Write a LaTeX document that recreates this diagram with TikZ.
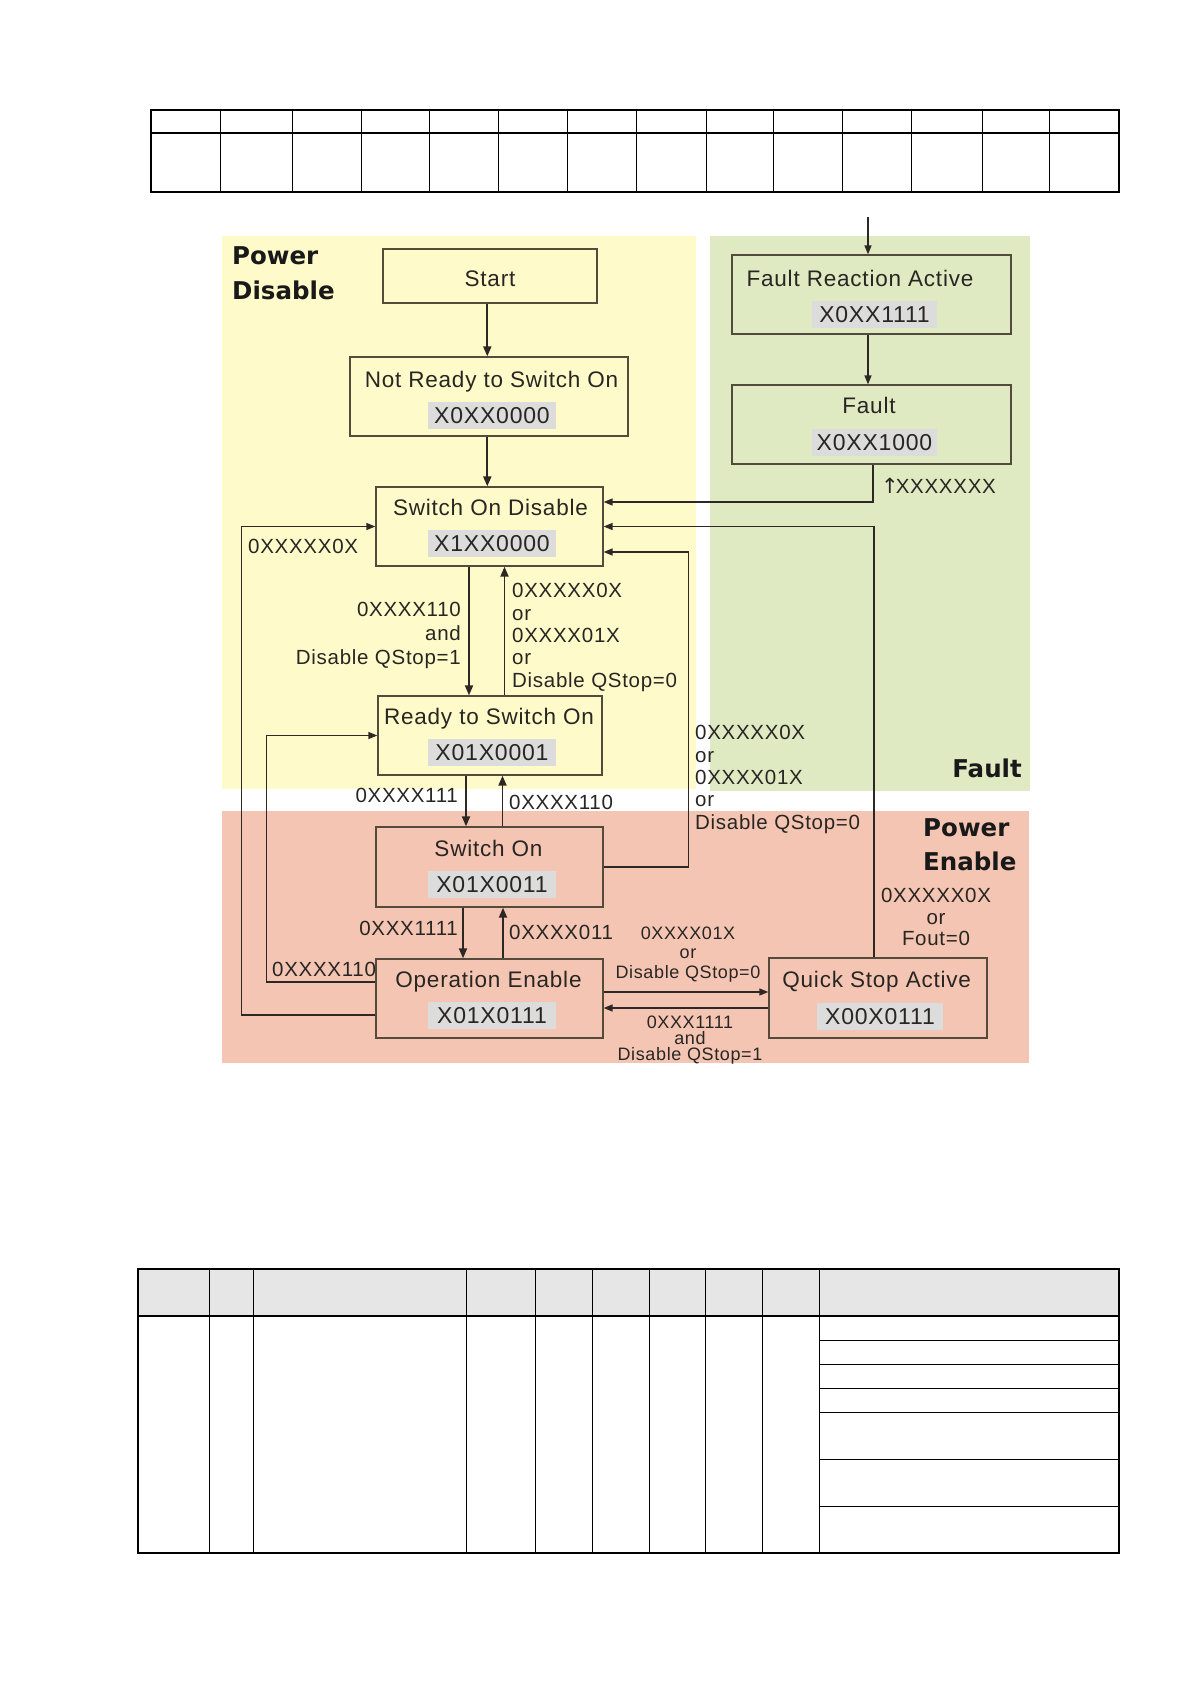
\documentclass[tikz,border=0pt]{standalone}
\usepackage{fontspec}
\setmainfont{Liberation Sans}[LetterSpace=3.5]
\newfontfamily\bfam[BoldFont={DejaVu Sans Bold}]{DejaVu Sans}
\newfontfamily\djv{DejaVu Sans}
\usetikzlibrary{arrows.meta,calc}
\definecolor{ybg}{RGB}{254,250,201}
\definecolor{gbg}{RGB}{223,233,194}
\definecolor{rbg}{RGB}{245,197,180}
\definecolor{hl}{RGB}{220,220,220}
\definecolor{boxc}{RGB}{85,75,60}
\definecolor{txt}{RGB}{40,38,35}
\definecolor{lnc}{RGB}{45,40,35}
\definecolor{thd}{RGB}{230,230,230}
\begin{document}
\begin{tikzpicture}[x=1pt,y=-1pt,
  stbox/.style={draw=boxc,line width=1.3pt,inner sep=0pt},
  ttl/.style={font=\fontsize{22.5}{27}\selectfont,text=txt,inner sep=0pt,text height=16pt,text depth=0pt},
  codebox/.style={font=\fontsize{23}{27}\selectfont,text=txt,fill=hl,inner sep=0pt,minimum width=128pt,minimum height=27pt,text height=16.5pt,text depth=0pt},
  lab/.style={font=\fontsize{20.5}{22.3}\selectfont,text=txt,inner sep=0pt},
  labone/.style={lab,text height=15pt,text depth=0pt},
  slab/.style={text=txt,inner sep=0pt,align=center,anchor=north},
  bigl/.style={font=\bfam\bfseries\fontsize{24.5}{35}\selectfont,text=black!90,inner sep=0pt},
  cn/.style={draw=lnc,line width=1.4pt,-{Triangle[length=9pt,width=7pt]}},
  va/.style={draw=lnc,line width=1.9pt,-{Triangle[length=10pt,width=8pt]}},
  tline/.style={draw=black,line width=0.9pt},
  tbold/.style={draw=black,line width=1.8pt}
]
\useasboundingbox (0,0) rectangle (1190,1684);

% ---------- top table ----------
\draw[tbold] (151,110) rectangle (1119,192);
\draw[tbold] (151,133) -- (1119,133);
\foreach \xx in {220.8,292.2,361.3,429.6,498.7,567.8,636.1,706,773.5,842.6,911,982.3,1049.9}
  \draw[tline] (\xx,110) -- (\xx,192);

% ---------- regions ----------
\fill[ybg] (222,236) rectangle (696,789);
\fill[gbg] (710,236) rectangle (1030,791);
\fill[rbg] (222,811) rectangle (1029,1063);

% ---------- state boxes ----------
\node[stbox,minimum width=214pt,minimum height=54pt] (start) at (490,276) {};
\node[stbox,minimum width=278pt,minimum height=79pt] (notready) at (489,396.5) {};
\node[stbox,minimum width=227pt,minimum height=79pt] (sod) at (489.5,526.5) {};
\node[stbox,minimum width=224pt,minimum height=79pt] (ready) at (490,735.5) {};
\node[stbox,minimum width=227pt,minimum height=80pt] (son) at (489.5,867) {};
\node[stbox,minimum width=227pt,minimum height=79pt] (oe) at (489.5,998.5) {};
\node[stbox,minimum width=218pt,minimum height=80pt] (qsa) at (878,998) {};
\node[stbox,minimum width=279pt,minimum height=79pt] (fra) at (871.5,294.5) {};
\node[stbox,minimum width=279pt,minimum height=79pt] (fault) at (871.5,424.5) {};

\node[ttl] (startT) at (490,278) {Start};
\node[ttl] (notreadyT) at (491.5,379) {Not Ready to Switch On};
\node[codebox] (notreadyC) at (492,415.5) {X0XX0000};
\node[ttl] (sodT) at (490.5,507) {Switch On Disable};
\node[codebox] (sodC) at (492,543) {X1XX0000};
\node[ttl] (readyT) at (489,716) {Ready to Switch On};
\node[codebox] (readyC) at (492,752) {X01X0001};
\node[ttl] (sonT) at (488.5,848) {Switch On};
\node[codebox] (sonC) at (492,884) {X01X0011};
\node[ttl] (oeT) at (488.5,979) {Operation Enable};
\node[codebox] (oeC) at (492,1015.5) {X01X0111};
\node[ttl] (qsaT) at (876.7,979) {Quick Stop Active};
\node[codebox,minimum width=126pt] (qsaC) at (880,1016) {X00X0111};
\node[ttl] (fraT) at (860,278) {Fault Reaction Active};
\node[codebox,minimum width=125pt] (fraC) at (874.5,314) {X0XX1111};
\node[ttl] (faultT) at (869,405) {Fault};
\node[codebox,minimum width=125pt] (faultC) at (874.5,442.5) {X0XX1000};

% ---------- region titles ----------
\node[bigl,align=left,anchor=north west] (pdis) at (232,246) {Power\\Disable};
\node[bigl,align=left,anchor=north west,font=\bfam\bfseries\fontsize{24.5}{34}\selectfont] (pen) at (923,818) {Power\\Enable};
\node[bigl,anchor=east,text height=18pt,text depth=0pt] (faultL) at (1022,768) {Fault};

% ---------- vertical state arrows ----------
\draw[va] ([xshift=-2.7pt]start.south) -- ([xshift=-2.7pt]start.south |- notready.north);
\draw[va] ([xshift=-1.7pt]notready.south) -- ([xshift=-1.7pt]notready.south |- sod.north);
\draw[va] ([xshift=-20.5pt]sod.south) -- ([xshift=-20.5pt]sod.south |- ready.north);
\draw[va] ([xshift=14.5pt]ready.north) -- ([xshift=14.5pt]ready.north |- sod.south);
\draw[va] ([xshift=-24pt]ready.south) -- ([xshift=-24pt]ready.south |- son.north);
\draw[va] ([xshift=13pt]son.north) -- ([xshift=13pt]son.north |- ready.south);
\draw[va] ([xshift=-26.5pt]son.south) -- ([xshift=-26.5pt]son.south |- oe.north);
\draw[va] ([xshift=13.5pt]oe.north) -- ([xshift=13.5pt]oe.north |- son.south);

% ---------- connectors ----------
\coordinate (fin) at (868,217);
\draw[cn] (fin) -- (fin |- fra.north);
\draw[cn] ([xshift=-3.5pt]fra.south) -- ([xshift=-3.5pt]fra.south |- fault.north);
\draw[cn] ([xshift=1.5pt]fault.south) |- ([yshift=24.5pt]sod.east);
\draw[cn] ([xshift=-4pt]qsa.north) |- (sod.east);
\draw[cn] (son.east) -- ++(85,0) |- ([yshift=-25.5pt]sod.east);
\draw[cn] ([yshift=-16.5pt]oe.west) -- ++(-134,0) |- (sod.west);
\draw[cn] ([yshift=16.5pt]oe.west) -- ++(-109,0) |- (ready.west);
\draw[cn] ([yshift=6.5pt]oe.east) -- ([yshift=6.5pt]oe.east -| qsa.west);
\draw[cn] ([yshift=-10pt]qsa.west) -- ([yshift=-10pt]qsa.west -| oe.east);

% ---------- labels ----------
\node[labone,anchor=west] (l1) at (248,546) {0XXXXX0X};
\node[lab,font=\fontsize{20.5}{24}\selectfont,align=right,anchor=north east] (l2) at (461,602.4) {0XXXX110\\and\\Disable QStop=1};
\node[lab,align=left,anchor=north west] (l3) at (512,583.4) {0XXXXX0X\\or\\0XXXX01X\\or\\Disable QStop=0};
\node[labone,anchor=east] (l4) at (458,795) {0XXXX111};
\node[labone,anchor=west] (l5) at (509,802) {0XXXX110};
\node[lab,align=left,anchor=north west] (l6) at (695,725.4) {0XXXXX0X\\or\\0XXXX01X\\or\\Disable QStop=0};
\node[labone,anchor=east] (l7) at (458,928) {0XXX1111};
\node[labone,anchor=west] (l8) at (509,932) {0XXXX011};
\node[labone,anchor=west] (l9) at (272,969) {0XXXX110};
\node[slab,font=\fontsize{18}{19.5}\selectfont] (l10) at (688,926.5) {0XXXX01X\\or\\Disable QStop=0};
\node[slab,font=\fontsize{18}{16}\selectfont] (l11) at (690,1015.5) {0XXX1111\\and\\Disable QStop=1};
\node[lab,font=\fontsize{20.5}{21.5}\selectfont,align=center,anchor=north] (l12) at (936,888.4) {0XXXXX0X\\or\\Fout=0};
\node[labone,anchor=west] (l13) at (881,486) {{\djv\fontsize{21}{21}\selectfont ↑}\hspace{-3pt}XXXXXXX};

% ---------- bottom table ----------
\fill[thd] (138,1269) rectangle (1119,1316);
\draw[tbold] (138,1269) rectangle (1119,1553);
\draw[tbold] (138,1316) -- (1119,1316);
\foreach \xx in {209,253,466,535,592,649,705,762,819}
  \draw[tline] (\xx,1269) -- (\xx,1553);
\foreach \yy in {1340.5,1364,1388,1412,1459,1506}
  \draw[tline] (819,\yy) -- (1119,\yy);
\end{tikzpicture}
\end{document}
